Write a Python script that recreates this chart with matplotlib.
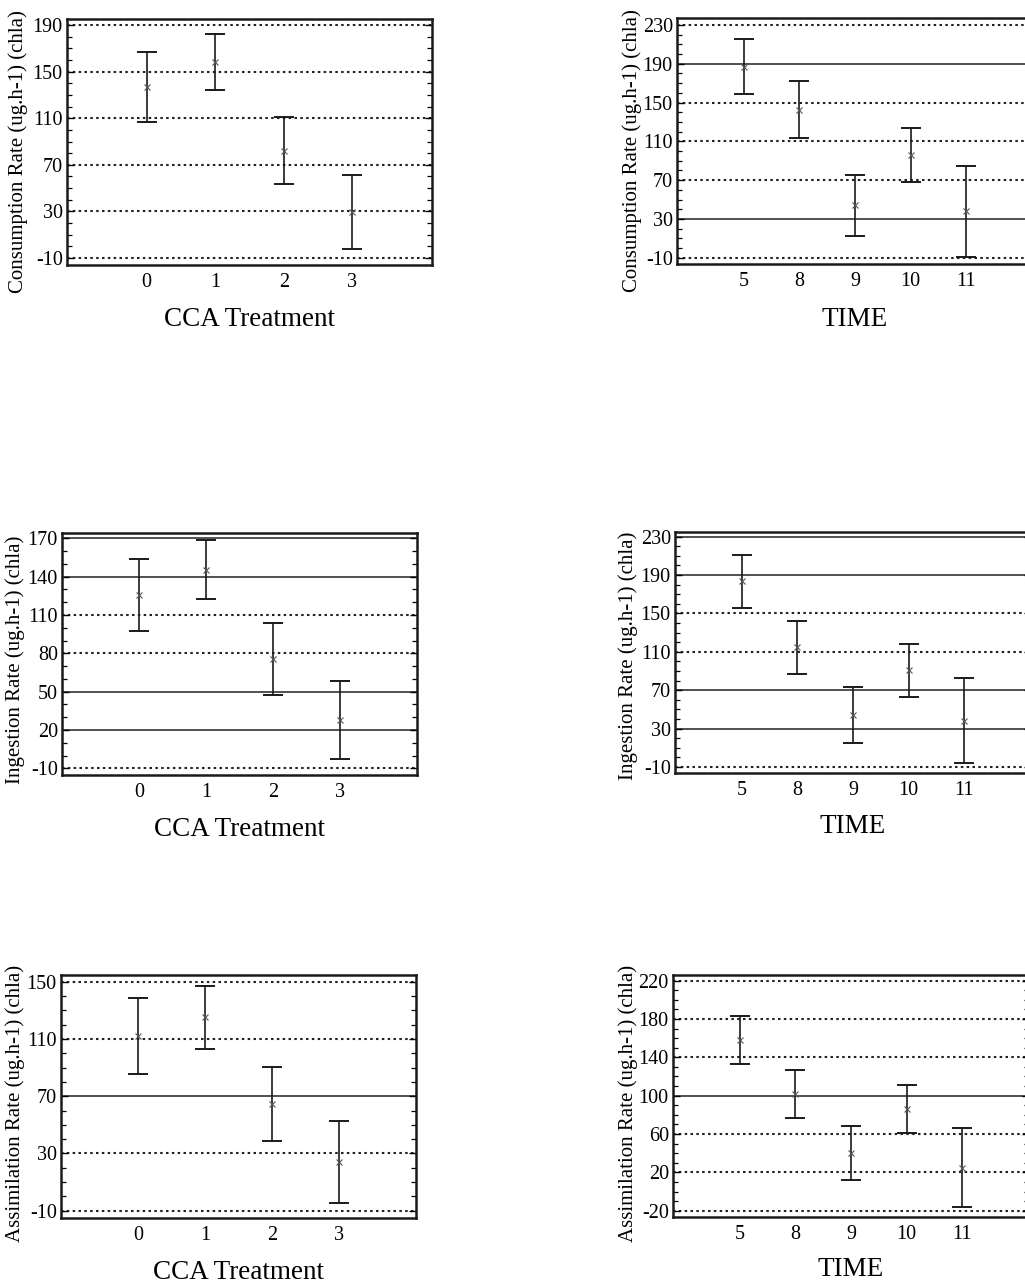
import numpy as np
import matplotlib
matplotlib.use('Agg')
import matplotlib.pyplot as plt
from matplotlib.ticker import FixedLocator, MultipleLocator

plt.rcParams['font.family'] = ['Liberation Serif', 'DejaVu Serif']
plt.rcParams['axes.unicode_minus'] = False

# ── data: group means and error-bar half widths ─────────────────────────────
cca_groups  = ['0', '1', '2', '3']
time_groups = ['5', '8', '9', '10', '11']

consumption_cca_mean  = [136.5, 158.3, 82.3, 29.5]
consumption_cca_err   = [30.0, 24.3, 28.6, 31.9]
consumption_time_mean = [186.9, 142.5, 44.0, 95.9, 38.0]
consumption_time_err  = [28.4, 29.4, 31.3, 27.9, 47.0]

ingestion_cca_mean  = [125.7, 145.6, 75.6, 27.8]
ingestion_cca_err   = [28.5, 23.1, 28.0, 30.3]
ingestion_time_mean = [183.4, 114.9, 44.0, 90.9, 38.4]
ingestion_time_err  = [27.3, 27.7, 29.2, 27.4, 44.2]

assim_cca_mean  = [112.0, 125.1, 64.7, 24.1]
assim_cca_err   = [26.8, 21.9, 26.0, 28.5]
assim_time_mean = [158.3, 101.5, 40.2, 85.9, 25.0]
assim_time_err  = [25.2, 25.2, 28.2, 25.2, 40.8]

consumption_cca_ticks  = [-10, 30, 70, 110, 150, 190]
consumption_time_ticks = [-10, 30, 70, 110, 150, 190, 230]
ingestion_cca_ticks    = [-10, 20, 50, 80, 110, 140, 170]
ingestion_time_ticks   = [-10, 30, 70, 110, 150, 190, 230]
assim_cca_ticks        = [-10, 30, 70, 110, 150]
assim_time_ticks       = [-20, 20, 60, 100, 140, 180, 220]

# grid line style per tick: True = solid, False = dotted
consumption_cca_solid  = [False] * 6
consumption_time_solid = [False, True, False, False, False, True, False]
ingestion_cca_solid    = [False, True, True, False, False, True, True]
ingestion_time_solid   = [False, True, True, False, False, True, True]
assim_cca_solid        = [False, False, True, False, False]
assim_time_solid       = [False, False, False, True, False, False, False]

W, H = 1025, 1286


def px_axes(x0, y0, x1, y1):
    """axes rectangle from pixel box (top-left origin)"""
    return [x0 / W, 1 - y1 / H, (x1 - x0) / W, (y1 - y0) / H]


def draw_panel(ax, groups, means, errs, ticks, solid, ylim, xlim,
               ylabel, xlabel, ylab_xy, xlab_y):
    x = np.arange(len(groups))
    for t, s in zip(ticks, solid):
        if s:
            ax.axhline(t, color='#333333', lw=1.2, ls='-', zorder=1)
        else:
            ax.axhline(t, color='#222222', lw=1.5, ls=(0, (1.2, 1.6)), zorder=1)
    ax.errorbar(x, means, yerr=errs, fmt='none', ecolor='#1a1a1a',
                elinewidth=1.2, capsize=7, capthick=1.4, zorder=3)
    ax.plot(x, means, ls='none', marker='x', ms=4, mew=0.8,
            color='#555555', zorder=4)
    ax.set_xlim(*xlim)
    ax.set_ylim(*ylim)
    ax.set_xticks(x)
    ax.set_xticklabels(groups)
    ax.yaxis.set_major_locator(FixedLocator(ticks))
    ax.yaxis.set_minor_locator(MultipleLocator(10))
    ax.tick_params(axis='x', length=0, pad=5.5, labelsize=14.5)
    ax.tick_params(axis='y', which='major', direction='in', length=5,
                   width=1.0, left=True, right=True, pad=3, labelsize=14.5)
    ax.tick_params(axis='y', which='minor', direction='in', length=3.5,
                   width=0.9, left=True, right=True)
    for sp in ax.spines.values():
        sp.set_linewidth(1.8)
        sp.set_color('#1a1a1a')
    ax.set_ylabel(ylabel, fontsize=15)
    ax.yaxis.set_label_coords(*ylab_xy)
    ax.set_xlabel(xlabel, fontsize=19.5)
    ax.xaxis.set_label_coords(0.5, xlab_y)


fig = plt.figure(figsize=(W / 100, H / 100), dpi=100)

ax1 = fig.add_axes(px_axes(67, 19, 432, 265))
draw_panel(ax1, cca_groups, consumption_cca_mean, consumption_cca_err,
           consumption_cca_ticks, consumption_cca_solid, (-16, 195.2),
           (-1.16, 4.16), 'Consumption Rate (ug.h-1) (chla)', 'CCA Treatment',
           (-0.107, 0.46), -0.172)

ax2 = fig.add_axes(px_axes(677, 18, 1033, 264))
draw_panel(ax2, time_groups, consumption_time_mean, consumption_time_err,
           consumption_time_ticks, consumption_time_solid, (-16.5, 237.2),
           (-1.2, 5.2), 'Consumption Rate (ug.h-1) (chla)', 'TIME',
           (-0.099, 0.463), -0.175)

ax3 = fig.add_axes(px_axes(62, 533, 417, 775))
draw_panel(ax3, cca_groups, ingestion_cca_mean, ingestion_cca_err,
           ingestion_cca_ticks, ingestion_cca_solid, (-15.2, 174.2),
           (-1.16, 4.16), 'Ingestion Rate (ug.h-1) (chla)', 'CCA Treatment',
           (-0.104, 0.475), -0.172)

ax4 = fig.add_axes(px_axes(675, 532, 1031, 773))
draw_panel(ax4, time_groups, ingestion_time_mean, ingestion_time_err,
           ingestion_time_ticks, ingestion_time_solid, (-16.2, 234.9),
           (-1.2, 5.2), 'Ingestion Rate (ug.h-1) (chla)', 'TIME',
           (-0.104, 0.485), -0.17)

ax5 = fig.add_axes(px_axes(61, 975, 416, 1218))
draw_panel(ax5, cca_groups, assim_cca_mean, assim_cca_err,
           assim_cca_ticks, assim_cca_solid, (-15.1, 154.7),
           (-1.16, 4.16), 'Assimilation Rate (ug.h-1) (chla)', 'CCA Treatment',
           (-0.101, 0.473), -0.172)

ax6 = fig.add_axes(px_axes(673, 975, 1029, 1217))
draw_panel(ax6, time_groups, assim_time_mean, assim_time_err,
           assim_time_ticks, assim_time_solid, (-26.6, 225.9),
           (-1.2, 5.2), 'Assimilation Rate (ug.h-1) (chla)', 'TIME',
           (-0.098, 0.471), -0.165)

fig.savefig('out.png', dpi=100, facecolor='white')
